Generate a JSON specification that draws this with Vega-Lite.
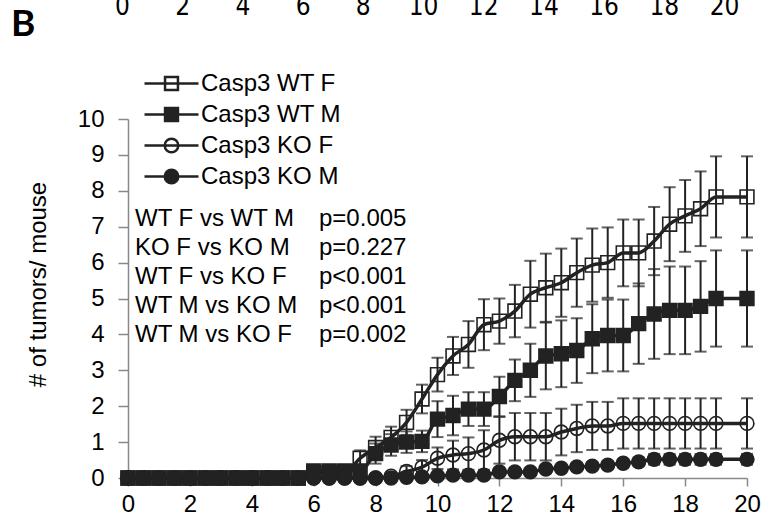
{
"$schema": "https://vega.github.io/schema/vega-lite/v6.json",
"width": 619, "height": 359,
"autosize": {"type": "none"},
"padding": {"left": 128, "top": 119, "right": 16, "bottom": 45},
"title": {"text": "B", "anchor": "start", "frame": "group", "dx": -117, "dy": 55, "font": "Lato", "fontSize": 37, "fontWeight": "bold", "color": "#000"},
"config": {"view": {"stroke": null}, "font": "Liberation Sans"},
"datasets": {
"d": [
{"s":"Casp3 WT F","w":0,"v":0,"e":0},{"s":"Casp3 WT F","w":0.5,"v":0,"e":0},{"s":"Casp3 WT F","w":1,"v":0,"e":0},{"s":"Casp3 WT F","w":1.5,"v":0,"e":0},{"s":"Casp3 WT F","w":2,"v":0,"e":0},{"s":"Casp3 WT F","w":2.5,"v":0,"e":0},{"s":"Casp3 WT F","w":3,"v":0,"e":0},{"s":"Casp3 WT F","w":3.5,"v":0,"e":0},{"s":"Casp3 WT F","w":4,"v":0,"e":0},{"s":"Casp3 WT F","w":4.5,"v":0,"e":0},{"s":"Casp3 WT F","w":5,"v":0,"e":0},{"s":"Casp3 WT F","w":5.5,"v":0,"e":0},
{"s":"Casp3 WT F","w":6,"v":0.15,"e":0},{"s":"Casp3 WT F","w":6.5,"v":0.15,"e":0},{"s":"Casp3 WT F","w":7,"v":0.15,"e":0},{"s":"Casp3 WT F","w":7.5,"v":0.55,"e":0.22},{"s":"Casp3 WT F","w":8,"v":0.85,"e":0.3},{"s":"Casp3 WT F","w":8.5,"v":1.13,"e":0.3},{"s":"Casp3 WT F","w":9,"v":1.55,"e":0.35},{"s":"Casp3 WT F","w":9.5,"v":2.2,"e":0.4},{"s":"Casp3 WT F","w":10,"v":2.88,"e":0.47},{"s":"Casp3 WT F","w":10.5,"v":3.4,"e":0.53},{"s":"Casp3 WT F","w":11,"v":3.72,"e":0.65},{"s":"Casp3 WT F","w":11.5,"v":4.27,"e":0.71},{"s":"Casp3 WT F","w":12,"v":4.37,"e":0.63},{"s":"Casp3 WT F","w":12.5,"v":4.65,"e":0.73},{"s":"Casp3 WT F","w":13,"v":5.12,"e":0.93},{"s":"Casp3 WT F","w":13.5,"v":5.3,"e":0.95},{"s":"Casp3 WT F","w":14,"v":5.44,"e":0.95},{"s":"Casp3 WT F","w":14.5,"v":5.72,"e":0.95},{"s":"Casp3 WT F","w":15,"v":5.93,"e":1.02},{"s":"Casp3 WT F","w":15.5,"v":6.0,"e":0.98},{"s":"Casp3 WT F","w":16,"v":6.27,"e":0.93},{"s":"Casp3 WT F","w":16.5,"v":6.27,"e":0.93},{"s":"Casp3 WT F","w":17,"v":6.6,"e":0.95},{"s":"Casp3 WT F","w":17.5,"v":7.07,"e":1.03},{"s":"Casp3 WT F","w":18,"v":7.3,"e":1.0},{"s":"Casp3 WT F","w":18.5,"v":7.5,"e":1.04},{"s":"Casp3 WT F","w":19,"v":7.83,"e":1.13},{"s":"Casp3 WT F","w":20,"v":7.83,"e":1.13},
{"s":"Casp3 KO F","w":0,"v":0,"e":0},{"s":"Casp3 KO F","w":0.5,"v":0,"e":0},{"s":"Casp3 KO F","w":1,"v":0,"e":0},{"s":"Casp3 KO F","w":1.5,"v":0,"e":0},{"s":"Casp3 KO F","w":2,"v":0,"e":0},{"s":"Casp3 KO F","w":2.5,"v":0,"e":0},{"s":"Casp3 KO F","w":3,"v":0,"e":0},{"s":"Casp3 KO F","w":3.5,"v":0,"e":0},{"s":"Casp3 KO F","w":4,"v":0,"e":0},{"s":"Casp3 KO F","w":4.5,"v":0,"e":0},{"s":"Casp3 KO F","w":5,"v":0,"e":0},{"s":"Casp3 KO F","w":5.5,"v":0,"e":0},
{"s":"Casp3 KO F","w":6,"v":0,"e":0},{"s":"Casp3 KO F","w":6.5,"v":0,"e":0},{"s":"Casp3 KO F","w":7,"v":0,"e":0},{"s":"Casp3 KO F","w":7.5,"v":0,"e":0},{"s":"Casp3 KO F","w":8,"v":0,"e":0},{"s":"Casp3 KO F","w":8.5,"v":0.05,"e":0.05},{"s":"Casp3 KO F","w":9,"v":0.18,"e":0.15},{"s":"Casp3 KO F","w":9.5,"v":0.3,"e":0.2},{"s":"Casp3 KO F","w":10,"v":0.55,"e":0.3},{"s":"Casp3 KO F","w":10.5,"v":0.64,"e":0.4},{"s":"Casp3 KO F","w":11,"v":0.68,"e":0.45},{"s":"Casp3 KO F","w":11.5,"v":0.78,"e":0.55},{"s":"Casp3 KO F","w":12,"v":1.05,"e":0.65},{"s":"Casp3 KO F","w":12.5,"v":1.15,"e":0.66},{"s":"Casp3 KO F","w":13,"v":1.15,"e":0.66},{"s":"Casp3 KO F","w":13.5,"v":1.15,"e":0.66},{"s":"Casp3 KO F","w":14,"v":1.28,"e":0.65},{"s":"Casp3 KO F","w":14.5,"v":1.38,"e":0.66},{"s":"Casp3 KO F","w":15,"v":1.45,"e":0.67},{"s":"Casp3 KO F","w":15.5,"v":1.45,"e":0.67},{"s":"Casp3 KO F","w":16,"v":1.52,"e":0.7},{"s":"Casp3 KO F","w":16.5,"v":1.52,"e":0.7},{"s":"Casp3 KO F","w":17,"v":1.52,"e":0.7},{"s":"Casp3 KO F","w":17.5,"v":1.52,"e":0.7},{"s":"Casp3 KO F","w":18,"v":1.52,"e":0.7},{"s":"Casp3 KO F","w":18.5,"v":1.52,"e":0.7},{"s":"Casp3 KO F","w":19,"v":1.52,"e":0.7},{"s":"Casp3 KO F","w":20,"v":1.52,"e":0.7},
{"s":"Casp3 KO M","w":0,"v":0,"e":0},{"s":"Casp3 KO M","w":0.5,"v":0,"e":0},{"s":"Casp3 KO M","w":1,"v":0,"e":0},{"s":"Casp3 KO M","w":1.5,"v":0,"e":0},{"s":"Casp3 KO M","w":2,"v":0,"e":0},{"s":"Casp3 KO M","w":2.5,"v":0,"e":0},{"s":"Casp3 KO M","w":3,"v":0,"e":0},{"s":"Casp3 KO M","w":3.5,"v":0,"e":0},{"s":"Casp3 KO M","w":4,"v":0,"e":0},{"s":"Casp3 KO M","w":4.5,"v":0,"e":0},{"s":"Casp3 KO M","w":5,"v":0,"e":0},{"s":"Casp3 KO M","w":5.5,"v":0,"e":0},
{"s":"Casp3 KO M","w":6,"v":0,"e":0},{"s":"Casp3 KO M","w":6.5,"v":0,"e":0},{"s":"Casp3 KO M","w":7,"v":0,"e":0},{"s":"Casp3 KO M","w":7.5,"v":0,"e":0},{"s":"Casp3 KO M","w":8,"v":0,"e":0},{"s":"Casp3 KO M","w":8.5,"v":0,"e":0},{"s":"Casp3 KO M","w":9,"v":0.02,"e":0.03},{"s":"Casp3 KO M","w":9.5,"v":0.03,"e":0.04},{"s":"Casp3 KO M","w":10,"v":0.06,"e":0.05},{"s":"Casp3 KO M","w":10.5,"v":0.08,"e":0.05},{"s":"Casp3 KO M","w":11,"v":0.08,"e":0.05},{"s":"Casp3 KO M","w":11.5,"v":0.08,"e":0.05},{"s":"Casp3 KO M","w":12,"v":0.17,"e":0.1},{"s":"Casp3 KO M","w":12.5,"v":0.17,"e":0.1},{"s":"Casp3 KO M","w":13,"v":0.17,"e":0.1},{"s":"Casp3 KO M","w":13.5,"v":0.25,"e":0.1},{"s":"Casp3 KO M","w":14,"v":0.27,"e":0.1},{"s":"Casp3 KO M","w":14.5,"v":0.31,"e":0.1},{"s":"Casp3 KO M","w":15,"v":0.33,"e":0.1},{"s":"Casp3 KO M","w":15.5,"v":0.36,"e":0.1},{"s":"Casp3 KO M","w":16,"v":0.41,"e":0.11},{"s":"Casp3 KO M","w":16.5,"v":0.45,"e":0.12},{"s":"Casp3 KO M","w":17,"v":0.52,"e":0.15},{"s":"Casp3 KO M","w":17.5,"v":0.52,"e":0.15},{"s":"Casp3 KO M","w":18,"v":0.52,"e":0.15},{"s":"Casp3 KO M","w":18.5,"v":0.52,"e":0.15},{"s":"Casp3 KO M","w":19,"v":0.52,"e":0.15},{"s":"Casp3 KO M","w":20,"v":0.52,"e":0.15},
{"s":"Casp3 WT M","w":0,"v":0,"e":0},{"s":"Casp3 WT M","w":0.5,"v":0,"e":0},{"s":"Casp3 WT M","w":1,"v":0,"e":0},{"s":"Casp3 WT M","w":1.5,"v":0,"e":0},{"s":"Casp3 WT M","w":2,"v":0,"e":0},{"s":"Casp3 WT M","w":2.5,"v":0,"e":0},{"s":"Casp3 WT M","w":3,"v":0,"e":0},{"s":"Casp3 WT M","w":3.5,"v":0,"e":0},{"s":"Casp3 WT M","w":4,"v":0,"e":0},{"s":"Casp3 WT M","w":4.5,"v":0,"e":0},{"s":"Casp3 WT M","w":5,"v":0,"e":0},{"s":"Casp3 WT M","w":5.5,"v":0,"e":0},
{"s":"Casp3 WT M","w":6,"v":0.2,"e":0},{"s":"Casp3 WT M","w":6.5,"v":0.2,"e":0},{"s":"Casp3 WT M","w":7,"v":0.2,"e":0},{"s":"Casp3 WT M","w":7.5,"v":0.2,"e":0},{"s":"Casp3 WT M","w":8,"v":0.68,"e":0.28},{"s":"Casp3 WT M","w":8.5,"v":0.92,"e":0.3},{"s":"Casp3 WT M","w":9,"v":1.0,"e":0.3},{"s":"Casp3 WT M","w":9.5,"v":1.02,"e":0.3},{"s":"Casp3 WT M","w":10,"v":1.64,"e":0.5},{"s":"Casp3 WT M","w":10.5,"v":1.74,"e":0.55},{"s":"Casp3 WT M","w":11,"v":1.92,"e":0.47},{"s":"Casp3 WT M","w":11.5,"v":1.92,"e":0.47},{"s":"Casp3 WT M","w":12,"v":2.27,"e":0.55},{"s":"Casp3 WT M","w":12.5,"v":2.72,"e":0.58},{"s":"Casp3 WT M","w":13,"v":3.0,"e":0.74},{"s":"Casp3 WT M","w":13.5,"v":3.4,"e":0.93},{"s":"Casp3 WT M","w":14,"v":3.46,"e":0.93},{"s":"Casp3 WT M","w":14.5,"v":3.55,"e":0.9},{"s":"Casp3 WT M","w":15,"v":3.88,"e":0.96},{"s":"Casp3 WT M","w":15.5,"v":3.97,"e":1.0},{"s":"Casp3 WT M","w":16,"v":3.97,"e":1.0},{"s":"Casp3 WT M","w":16.5,"v":4.3,"e":1.12},{"s":"Casp3 WT M","w":17,"v":4.57,"e":1.25},{"s":"Casp3 WT M","w":17.5,"v":4.67,"e":1.22},{"s":"Casp3 WT M","w":18,"v":4.67,"e":1.22},{"s":"Casp3 WT M","w":18.5,"v":4.78,"e":1.26},{"s":"Casp3 WT M","w":19,"v":5.0,"e":1.34},{"s":"Casp3 WT M","w":20,"v":5.0,"e":1.34}
],
"stats": [
{"cmp":"WT F vs WT M","p":"p=0.005"},
{"cmp":"KO F vs KO M","p":"p=0.227"},
{"cmp":"WT F vs KO F","p":"p<0.001"},
{"cmp":"WT M vs KO M","p":"p<0.001 "},
{"cmp":"WT M vs KO F","p":"p=0.002"}
]
},
"layer": [
{
"data": {"name": "d"},
"encoding": {
"x": {"field": "w", "type": "quantitative", "scale": {"domain": [0, 20]},
 "axis": {"values": [0,2,4,6,8,10,12,14,16,18,20], "title": null, "grid": false, "tickSize": 8, "labelPadding": 6, "labelFontSize": 24, "labelFont": "Liberation Sans", "labelColor": "#000", "labelFlush": false, "domainColor": "#888", "tickColor": "#888", "domainWidth": 1.5, "tickWidth": 1.5}},
"y": {"field": "v", "type": "quantitative", "scale": {"domain": [0, 10]},
 "axis": {"values": [0,1,2,3,4,5,6,7,8,9,10], "title": "# of tumors/ mouse", "grid": false, "tickSize": 10, "labelPadding": 14, "labelFontSize": 24, "labelFont": "Liberation Sans", "labelColor": "#000", "titleFont": "Liberation Sans", "titleFontSize": 24, "titleFontWeight": "normal", "titleColor": "#000", "titlePadding": 27, "titleY": 165, "domainColor": "#888", "tickColor": "#888", "domainWidth": 1.5, "tickWidth": 1.5}}
},
"layer": [
{"mark": {"type": "errorbar", "ticks": {"size": 12}, "thickness": 2, "color": "#222"},
 "encoding": {"yError": {"field": "e"}}},
{"mark": {"type": "line", "color": "#222", "strokeWidth": 3.5, "interpolate": "monotone"},
 "encoding": {"detail": {"field": "s"}}},
{"mark": {"type": "point", "filled": true, "stroke": "#222", "strokeWidth": 1.6, "size": 190, "opacity": 1},
 "encoding": {
  "shape": {"field": "s", "type": "nominal", "scale": {"domain": ["Casp3 WT F","Casp3 WT M","Casp3 KO F","Casp3 KO M"], "range": ["square","square","circle","circle"]}, "legend": null},
  "fill": {"field": "s", "type": "nominal", "scale": {"domain": ["Casp3 WT F","Casp3 WT M","Casp3 KO F","Casp3 KO M"], "range": ["transparent","#222","transparent","#222"]}, "legend": null}
 }}
]
},
{
"data": {"name": "d"},
"mark": {"type": "point", "filled": true, "opacity": 0, "strokeWidth": 2.5},
"encoding": {
"x": {"field": "w", "type": "quantitative", "scale": {"domain": [0, 20], "range": [-6, 596]},
 "axis": {"orient": "top", "values": [0,2,4,6,8,10,12,14,16,18,20], "title": null, "grid": false, "domain": false, "ticks": false, "tickSize": 0, "labelPadding": 100, "labelFont": "Liberation Sans Narrow, DejaVu Sans Condensed, Lato", "labelFontSize": 26, "labelColor": "#000", "labelFlush": false}},
"shape": {"field": "s", "type": "nominal", "scale": {"domain": ["Casp3 WT F","Casp3 WT M","Casp3 KO F","Casp3 KO M"], "range": ["M-1.8,0H1.8M-0.43,-0.43H0.43V0.43H-0.43Z","M-1.8,0H1.8M-0.43,-0.43H0.43V0.43H-0.43Z","M-1.8,0H1.8M-0.45,0A0.45,0.45,0,1,0,0.45,0A0.45,0.45,0,1,0,-0.45,0Z","M-1.8,0H1.8M-0.45,0A0.45,0.45,0,1,0,0.45,0A0.45,0.45,0,1,0,-0.45,0Z"]},
 "legend": {"orient": "none", "legendX": 27, "legendY": -52, "title": null, "symbolSize": 900, "symbolStrokeColor": "#222", "symbolStrokeWidth": 2.5, "symbolOpacity": 1, "labelFontSize": 24, "labelFont": "Liberation Sans", "labelColor": "#000", "labelOffset": 13, "rowPadding": 2, "padding": 0, "labelLimit": 400}},
"fill": {"field": "s", "type": "nominal", "scale": {"domain": ["Casp3 WT F","Casp3 WT M","Casp3 KO F","Casp3 KO M"], "range": ["transparent","#222","transparent","#222"]},
 "legend": {"orient": "none", "legendX": 27, "legendY": -52, "title": null, "symbolSize": 900, "symbolStrokeColor": "#222", "symbolStrokeWidth": 2.5, "symbolOpacity": 1, "labelFontSize": 24, "labelFont": "Liberation Sans", "labelColor": "#000", "labelOffset": 13, "rowPadding": 2, "padding": 0, "labelLimit": 400}},
"stroke": {"field": "s", "type": "nominal", "scale": {"domain": ["Casp3 WT F","Casp3 WT M","Casp3 KO F","Casp3 KO M"], "range": ["#222","#222","#222","#222"]},
 "legend": {"orient": "none", "legendX": 27, "legendY": -52, "title": null, "symbolSize": 900, "symbolStrokeColor": "#222", "symbolStrokeWidth": 2.5, "symbolOpacity": 1, "labelFontSize": 24, "labelFont": "Liberation Sans", "labelColor": "#000", "labelOffset": 13, "rowPadding": 2, "padding": 0, "labelLimit": 400}}
}
},
{
"data": {"name": "stats"},
"mark": {"type": "point", "opacity": 0},
"encoding": {
"strokeDash": {"field": "cmp", "type": "nominal", "sort": null,
 "legend": {"orient": "none", "legendX": -17, "legendY": 88, "title": null, "symbolSize": 0, "symbolOpacity": 0, "symbolStrokeWidth": 0, "labelFontSize": 24, "labelFont": "Liberation Sans", "labelColor": "#000", "labelOffset": 0, "rowPadding": 5, "padding": 0, "labelLimit": 400}},
"stroke": {"field": "p", "type": "nominal", "sort": null,
 "legend": {"orient": "none", "legendX": 167, "legendY": 88, "title": null, "symbolSize": 0, "symbolOpacity": 0, "symbolStrokeWidth": 0, "labelFontSize": 24, "labelFont": "Liberation Sans", "labelColor": "#000", "labelOffset": 0, "rowPadding": 5, "padding": 0, "labelLimit": 400}}
}
}
],
"resolve": {"scale": {"x": "independent", "shape": "independent", "fill": "independent", "stroke": "independent"}}
}
